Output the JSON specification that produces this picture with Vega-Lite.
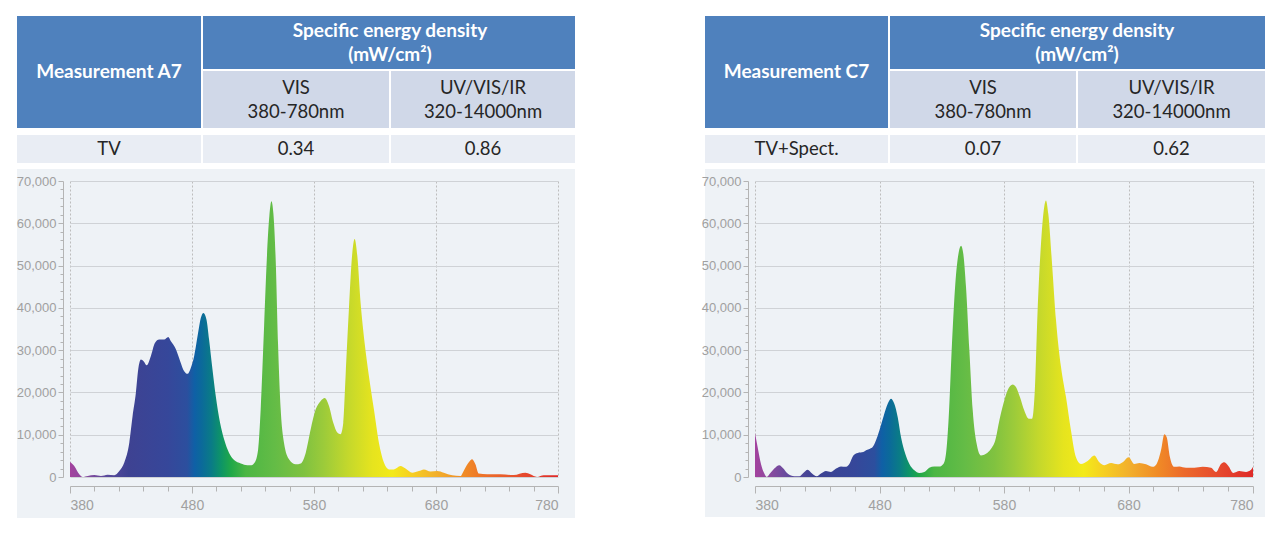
{
  "$schema": "https://vega.github.io/schema/vega-lite/v6.json",
  "padding": {"left": 15, "top": 14, "right": 15, "bottom": 16},
  "background": "white",
  "bounds": "flush",
  "align": "each",
  "columns": 2,
  "spacing": {"row": 17, "column": 197},
  "config": {
    "view": {"stroke": null},
    "font": "Lato",
    "axis": {
      "labelFont": "Liberation Sans Narrow, Liberation Sans",
      "labelColor": "#a0a0a0",
      "labelFontSize": 13,
      "domainColor": "#b4b4b4",
      "tickColor": "#b4b4b4",
      "title": null,
      "labelOverlap": false
    }
  },
  "datasets": {
    "tab": [
      {"c0": 0, "c1": 3, "r0": 5, "r1": 6, "kind": "panel"},
      {"c0": 0, "c1": 1, "r0": 0, "r1": 2, "kind": "head"},
      {"c0": 1, "c1": 3, "r0": 0, "r1": 1, "kind": "head"},
      {"c0": 1, "c1": 2, "r0": 1, "r1": 2, "kind": "sub"},
      {"c0": 2, "c1": 3, "r0": 1, "r1": 2, "kind": "sub"},
      {"c0": 0, "c1": 1, "r0": 3, "r1": 4, "kind": "data"},
      {"c0": 1, "c1": 2, "r0": 3, "r1": 4, "kind": "data"},
      {"c0": 2, "c1": 3, "r0": 3, "r1": 4, "kind": "data"}
    ],
    "txtA": [
      {"cx": 0.5, "ry": 1.03, "label": "Measurement A7", "kind": "head"},
      {"cx": 2, "ry": 0.29, "label": "Specific energy density", "kind": "head"},
      {"cx": 2, "ry": 0.72, "label": "(mW/cm²)", "kind": "head"},
      {"cx": 1.5, "ry": 1.3, "label": "VIS", "kind": "sub"},
      {"cx": 1.5, "ry": 1.71, "label": "380-780nm", "kind": "sub"},
      {"cx": 2.5, "ry": 1.3, "label": "UV/VIS/IR", "kind": "sub"},
      {"cx": 2.5, "ry": 1.71, "label": "320-14000nm", "kind": "sub"},
      {"cx": 0.5, "ry": 3.5, "label": "TV", "kind": "data"},
      {"cx": 1.5, "ry": 3.5, "label": "0.34", "kind": "data"},
      {"cx": 2.5, "ry": 3.5, "label": "0.86", "kind": "data"}
    ],
    "txtC": [
      {"cx": 0.5, "ry": 1.03, "label": "Measurement C7", "kind": "head"},
      {"cx": 2, "ry": 0.29, "label": "Specific energy density", "kind": "head"},
      {"cx": 2, "ry": 0.72, "label": "(mW/cm²)", "kind": "head"},
      {"cx": 1.5, "ry": 1.3, "label": "VIS", "kind": "sub"},
      {"cx": 1.5, "ry": 1.71, "label": "380-780nm", "kind": "sub"},
      {"cx": 2.5, "ry": 1.3, "label": "UV/VIS/IR", "kind": "sub"},
      {"cx": 2.5, "ry": 1.71, "label": "320-14000nm", "kind": "sub"},
      {"cx": 0.5, "ry": 3.5, "label": "TV+Spect.", "kind": "data"},
      {"cx": 1.5, "ry": 3.5, "label": "0.07", "kind": "data"},
      {"cx": 2.5, "ry": 3.5, "label": "0.62", "kind": "data"}
    ],
    "specA": [
      {"nm": 380, "v": 3540}, {"nm": 383.5, "v": 2600}, {"nm": 387.6, "v": 630}, {"nm": 390.4, "v": 0},
      {"nm": 394.5, "v": 240}, {"nm": 400, "v": 470}, {"nm": 405.4, "v": 240}, {"nm": 410.8, "v": 550},
      {"nm": 416.3, "v": 400}, {"nm": 420.4, "v": 1400}, {"nm": 424.5, "v": 3400}, {"nm": 428.6, "v": 8100},
      {"nm": 431.3, "v": 14400}, {"nm": 434, "v": 19900}, {"nm": 435.9, "v": 25400}, {"nm": 438.1, "v": 27800},
      {"nm": 440.3, "v": 27400}, {"nm": 443, "v": 26400}, {"nm": 446.3, "v": 28600}, {"nm": 449.6, "v": 31700},
      {"nm": 453.1, "v": 32500}, {"nm": 457.2, "v": 32500}, {"nm": 460.5, "v": 33100}, {"nm": 462.7, "v": 32100},
      {"nm": 466.8, "v": 30200}, {"nm": 470.3, "v": 27400}, {"nm": 473.6, "v": 25000}, {"nm": 476.3, "v": 24400},
      {"nm": 479, "v": 25800}, {"nm": 481.8, "v": 28600}, {"nm": 485, "v": 34100}, {"nm": 487.2, "v": 37600},
      {"nm": 489.4, "v": 38800}, {"nm": 491.9, "v": 37200}, {"nm": 494, "v": 32500}, {"nm": 496.8, "v": 25400},
      {"nm": 499.5, "v": 19100}, {"nm": 503, "v": 12800}, {"nm": 506.3, "v": 8900}, {"nm": 510.4, "v": 5700},
      {"nm": 514.5, "v": 4000}, {"nm": 520, "v": 3200}, {"nm": 525.4, "v": 2800}, {"nm": 528.7, "v": 2800},
      {"nm": 531.4, "v": 3400}, {"nm": 534.2, "v": 6500}, {"nm": 536.3, "v": 16000}, {"nm": 539.1, "v": 35700},
      {"nm": 541.3, "v": 51400}, {"nm": 543.4, "v": 61700}, {"nm": 545.1, "v": 65200}, {"nm": 546.7, "v": 62400},
      {"nm": 548.6, "v": 51400}, {"nm": 550.5, "v": 31700}, {"nm": 552.7, "v": 16000}, {"nm": 555.4, "v": 8100},
      {"nm": 559.5, "v": 4200}, {"nm": 565, "v": 3000}, {"nm": 569.1, "v": 3200}, {"nm": 573.2, "v": 5700},
      {"nm": 577.3, "v": 11300}, {"nm": 581.4, "v": 16000}, {"nm": 585.5, "v": 18000}, {"nm": 588.8, "v": 18700},
      {"nm": 592.3, "v": 16800}, {"nm": 595.8, "v": 12800}, {"nm": 599.1, "v": 10500}, {"nm": 601.8, "v": 10100},
      {"nm": 604, "v": 12800}, {"nm": 605.9, "v": 23900}, {"nm": 608.6, "v": 39600}, {"nm": 611.4, "v": 53000},
      {"nm": 613.3, "v": 56300}, {"nm": 615.5, "v": 52300}, {"nm": 618.2, "v": 41200}, {"nm": 621.5, "v": 31700},
      {"nm": 625, "v": 23900}, {"nm": 629.1, "v": 16000}, {"nm": 633.2, "v": 8100}, {"nm": 637.3, "v": 3400},
      {"nm": 641.4, "v": 1800}, {"nm": 645.5, "v": 1800}, {"nm": 650.9, "v": 2600}, {"nm": 655, "v": 2000},
      {"nm": 660.5, "v": 1000}, {"nm": 666, "v": 1400}, {"nm": 670, "v": 1800}, {"nm": 675.5, "v": 1300},
      {"nm": 681, "v": 1400}, {"nm": 686.4, "v": 1000}, {"nm": 693.2, "v": 400}, {"nm": 700, "v": 240},
      {"nm": 703.3, "v": 1800}, {"nm": 706.9, "v": 3500}, {"nm": 709.6, "v": 4200}, {"nm": 712.3, "v": 3000},
      {"nm": 715, "v": 800}, {"nm": 721.9, "v": 630}, {"nm": 732.8, "v": 630}, {"nm": 743.7, "v": 470},
      {"nm": 753.3, "v": 1000}, {"nm": 757.3, "v": 630}, {"nm": 762.8, "v": 0}, {"nm": 768.3, "v": 400},
      {"nm": 776.5, "v": 400}, {"nm": 780, "v": 400}
    ],
    "specC": [
      {"nm": 380, "v": 10400}, {"nm": 382.1, "v": 7100}, {"nm": 384.8, "v": 3100}, {"nm": 387.5, "v": 800},
      {"nm": 389.4, "v": 0}, {"nm": 392, "v": 800}, {"nm": 395.5, "v": 2000}, {"nm": 399.5, "v": 2800},
      {"nm": 402.8, "v": 2000}, {"nm": 406.2, "v": 800}, {"nm": 411.6, "v": 160}, {"nm": 415.6, "v": 160},
      {"nm": 418.8, "v": 950}, {"nm": 422.3, "v": 1700}, {"nm": 425.8, "v": 800}, {"nm": 429.5, "v": 160},
      {"nm": 433, "v": 800}, {"nm": 437, "v": 1400}, {"nm": 441, "v": 1200}, {"nm": 445.1, "v": 2000},
      {"nm": 449.1, "v": 2500}, {"nm": 452.6, "v": 2400}, {"nm": 455.8, "v": 3100}, {"nm": 459, "v": 5100},
      {"nm": 462.5, "v": 5700}, {"nm": 467, "v": 5900}, {"nm": 469.2, "v": 6300}, {"nm": 472.4, "v": 6700},
      {"nm": 474.5, "v": 7100}, {"nm": 477.2, "v": 8700}, {"nm": 479.9, "v": 11000}, {"nm": 483.1, "v": 14200},
      {"nm": 486.6, "v": 17300}, {"nm": 489.2, "v": 18500}, {"nm": 491.9, "v": 17300}, {"nm": 494.6, "v": 14200},
      {"nm": 497.3, "v": 9400}, {"nm": 500.7, "v": 5500}, {"nm": 504, "v": 3100}, {"nm": 508, "v": 1600},
      {"nm": 512, "v": 950}, {"nm": 516, "v": 1200}, {"nm": 520, "v": 2200}, {"nm": 524, "v": 2500},
      {"nm": 528, "v": 2500}, {"nm": 531.3, "v": 3100}, {"nm": 533.4, "v": 5500}, {"nm": 535.6, "v": 14200},
      {"nm": 538.2, "v": 31500}, {"nm": 540.9, "v": 45700}, {"nm": 543.6, "v": 53100}, {"nm": 545.5, "v": 54700},
      {"nm": 547.3, "v": 52800}, {"nm": 549.5, "v": 44900}, {"nm": 552.2, "v": 29900}, {"nm": 554.9, "v": 15700},
      {"nm": 558, "v": 7900}, {"nm": 561.5, "v": 5100}, {"nm": 565.5, "v": 5500}, {"nm": 569.6, "v": 6700},
      {"nm": 573, "v": 8700}, {"nm": 576.3, "v": 13400}, {"nm": 579.5, "v": 17300}, {"nm": 582.9, "v": 20500},
      {"nm": 587, "v": 21900}, {"nm": 589.6, "v": 21300}, {"nm": 592.8, "v": 18900}, {"nm": 596.3, "v": 15700},
      {"nm": 599.8, "v": 13800}, {"nm": 602.5, "v": 13800}, {"nm": 604.6, "v": 19700}, {"nm": 607, "v": 39400},
      {"nm": 609.7, "v": 55100}, {"nm": 611.9, "v": 63000}, {"nm": 613.7, "v": 65400}, {"nm": 615.6, "v": 62200},
      {"nm": 618.6, "v": 50400}, {"nm": 621.8, "v": 37000}, {"nm": 625.8, "v": 26000}, {"nm": 629.8, "v": 18900},
      {"nm": 633.8, "v": 11000}, {"nm": 637.8, "v": 4700}, {"nm": 641.8, "v": 3100}, {"nm": 647.2, "v": 3800},
      {"nm": 652.5, "v": 5100}, {"nm": 656.6, "v": 3500}, {"nm": 660.6, "v": 2800}, {"nm": 666, "v": 3300},
      {"nm": 671.3, "v": 3000}, {"nm": 675.3, "v": 3500}, {"nm": 680.1, "v": 4700}, {"nm": 684.7, "v": 3100},
      {"nm": 688.7, "v": 3300}, {"nm": 694.1, "v": 3000}, {"nm": 699.4, "v": 2400}, {"nm": 702.6, "v": 3100},
      {"nm": 706.1, "v": 6300}, {"nm": 708.8, "v": 10100}, {"nm": 710.7, "v": 9400}, {"nm": 713.3, "v": 4700},
      {"nm": 716.8, "v": 2400}, {"nm": 720.8, "v": 2500}, {"nm": 726.2, "v": 2200}, {"nm": 732.9, "v": 2200},
      {"nm": 739.6, "v": 2400}, {"nm": 746.3, "v": 2200}, {"nm": 750.3, "v": 1200}, {"nm": 754.3, "v": 3100},
      {"nm": 757, "v": 3500}, {"nm": 760.5, "v": 2500}, {"nm": 764.2, "v": 950}, {"nm": 769, "v": 1400},
      {"nm": 774.4, "v": 1200}, {"nm": 778.4, "v": 1700}, {"nm": 780, "v": 2400}
    ]
  },
  "concat": [
    {
      "width": 488,
      "height": 149,
      "layer": [
        {
          "data": {"name": "tab"},
          "mark": {"type": "rect", "stroke": "white", "strokeWidth": 2},
          "encoding": {
            "x": {"field": "c0", "type": "quantitative", "axis": null,
                  "scale": {"domain": [0, 1, 2, 3], "range": [-54, 132, 320, 506]}},
            "x2": {"field": "c1"},
            "y": {"field": "r0", "type": "quantitative", "axis": null,
                  "scale": {"domain": [0, 1, 2, 3, 4, 5, 6], "range": [0, 55, 114, 119, 149, 153, 504]}},
            "y2": {"field": "r1"},
            "fill": {"field": "kind", "type": "nominal", "legend": null,
                     "scale": {"domain": ["panel", "head", "sub", "data"],
                               "range": ["#eef2f6", "#4f81bd", "#d0d8e8", "#e9edf4"]}}
          }
        },
        {
          "data": {"name": "txtA"},
          "transform": [{"filter": "datum.kind === 'head'"}],
          "mark": {"type": "text", "fontWeight": "bold", "fontSize": 19, "color": "white", "baseline": "middle"},
          "encoding": {
            "x": {"field": "cx", "type": "quantitative"},
            "y": {"field": "ry", "type": "quantitative"},
            "text": {"field": "label"}
          }
        },
        {
          "data": {"name": "txtA"},
          "transform": [{"filter": "datum.kind !== 'head'"}],
          "mark": {"type": "text", "fontSize": 18.5, "color": "#262626", "baseline": "middle"},
          "encoding": {
            "x": {"field": "cx", "type": "quantitative"},
            "y": {"field": "ry", "type": "quantitative"},
            "text": {"field": "label"}
          }
        }
      ]
    },
    {
      "width": 498,
      "height": 149,
      "layer": [
        {
          "data": {"name": "tab"},
          "mark": {"type": "rect", "stroke": "white", "strokeWidth": 2},
          "encoding": {
            "x": {"field": "c0", "type": "quantitative", "axis": null,
                  "scale": {"domain": [0, 1, 2, 3], "range": [-51, 134, 322, 511]}},
            "x2": {"field": "c1"},
            "y": {"field": "r0", "type": "quantitative", "axis": null,
                  "scale": {"domain": [0, 1, 2, 3, 4, 5, 6], "range": [0, 55, 114, 119, 149, 153, 503]}},
            "y2": {"field": "r1"},
            "fill": {"field": "kind", "type": "nominal", "legend": null,
                     "scale": {"domain": ["panel", "head", "sub", "data"],
                               "range": ["#eef2f6", "#4f81bd", "#d0d8e8", "#e9edf4"]}}
          }
        },
        {
          "data": {"name": "txtC"},
          "transform": [{"filter": "datum.kind === 'head'"}],
          "mark": {"type": "text", "fontWeight": "bold", "fontSize": 19, "color": "white", "baseline": "middle"},
          "encoding": {
            "x": {"field": "cx", "type": "quantitative"},
            "y": {"field": "ry", "type": "quantitative"},
            "text": {"field": "label"}
          }
        },
        {
          "data": {"name": "txtC"},
          "transform": [{"filter": "datum.kind !== 'head'"}],
          "mark": {"type": "text", "fontSize": 18.5, "color": "#262626", "baseline": "middle"},
          "encoding": {
            "x": {"field": "cx", "type": "quantitative"},
            "y": {"field": "ry", "type": "quantitative"},
            "text": {"field": "label"}
          }
        }
      ]
    },
    {
      "width": 488,
      "height": 296,
      "data": {"name": "specA"},
      "mark": {
        "type": "area",
        "interpolate": "monotone",
        "color": {
          "gradient": "linear", "x1": 0, "x2": 1, "y1": 0, "y2": 0,
          "stops": [
            {"offset": 0.0, "color": "#a3429e"},
            {"offset": 0.03, "color": "#8a4a9e"},
            {"offset": 0.075, "color": "#5a4a9c"},
            {"offset": 0.12, "color": "#3e4292"},
            {"offset": 0.2, "color": "#36479a"},
            {"offset": 0.24, "color": "#2c4f9e"},
            {"offset": 0.255, "color": "#0f60a6"},
            {"offset": 0.27, "color": "#0b6a9a"},
            {"offset": 0.29, "color": "#0a7c86"},
            {"offset": 0.31, "color": "#0e9566"},
            {"offset": 0.33, "color": "#20a848"},
            {"offset": 0.36, "color": "#4cb644"},
            {"offset": 0.42, "color": "#64bc46"},
            {"offset": 0.48, "color": "#80c240"},
            {"offset": 0.52, "color": "#9ccb3a"},
            {"offset": 0.57, "color": "#c4d82c"},
            {"offset": 0.62, "color": "#e6e41e"},
            {"offset": 0.66, "color": "#f3ea1a"},
            {"offset": 0.7, "color": "#f6cf22"},
            {"offset": 0.75, "color": "#f2b02c"},
            {"offset": 0.81, "color": "#f08a26"},
            {"offset": 0.86, "color": "#ec6a2a"},
            {"offset": 0.93, "color": "#e64a2e"},
            {"offset": 1.0, "color": "#df2a28"}
          ]
        }
      },
      "encoding": {
        "x": {
          "field": "nm", "type": "quantitative",
          "scale": {"domain": [380, 780], "nice": false, "zero": false},
          "axis": {
            "values": [380, 400, 420, 440, 460, 480, 500, 520, 540, 560, 580, 600, 620, 640, 660, 680, 700, 720, 740, 760, 780],
            "labelExpr": "datum.value % 100 === 80 ? datum.label : ''",
            "offset": 9,
            "labelPadding": 5,
            "labelFontSize": 14,
            "tickSize": {"condition": {"test": "datum.value % 100 === 80", "value": 7}, "value": 5},
            "grid": true,
            "gridDash": [2, 2],
            "gridColor": "#bdbdbd",
            "gridOpacity": {"condition": {"test": "datum.value % 100 === 80", "value": 1}, "value": 0}
          }
        },
        "y": {
          "field": "v", "type": "quantitative",
          "scale": {"domain": [0, 70000], "nice": false},
          "axis": {
            "values": [0, 2000, 4000, 6000, 8000, 10000, 12000, 14000, 16000, 18000, 20000, 22000, 24000, 26000, 28000, 30000, 32000, 34000, 36000, 38000, 40000, 42000, 44000, 46000, 48000, 50000, 52000, 54000, 56000, 58000, 60000, 62000, 64000, 66000, 68000, 70000],
            "format": ",d",
            "labelExpr": "datum.value % 10000 === 0 ? datum.label : ''",
            "offset": 7,
            "labelPadding": 2,
            "tickSize": {"condition": {"test": "datum.value % 10000 === 0", "value": 5}, "value": 3},
            "grid": true,
            "gridColor": "#cfd2d6",
            "gridOpacity": {"condition": {"test": "datum.value % 10000 === 0", "value": 1}, "value": 0}
          }
        }
      }
    },
    {
      "width": 498,
      "height": 296,
      "data": {"name": "specC"},
      "mark": {
        "type": "area",
        "interpolate": "monotone",
        "color": {
          "gradient": "linear", "x1": 0, "x2": 1, "y1": 0, "y2": 0,
          "stops": [
            {"offset": 0.0, "color": "#a3429e"},
            {"offset": 0.03, "color": "#8a4a9e"},
            {"offset": 0.075, "color": "#5a4a9c"},
            {"offset": 0.12, "color": "#3e4292"},
            {"offset": 0.2, "color": "#36479a"},
            {"offset": 0.24, "color": "#2c4f9e"},
            {"offset": 0.255, "color": "#0f60a6"},
            {"offset": 0.27, "color": "#0b6a9a"},
            {"offset": 0.29, "color": "#0a7c86"},
            {"offset": 0.31, "color": "#0e9566"},
            {"offset": 0.33, "color": "#20a848"},
            {"offset": 0.36, "color": "#4cb644"},
            {"offset": 0.42, "color": "#64bc46"},
            {"offset": 0.48, "color": "#80c240"},
            {"offset": 0.52, "color": "#9ccb3a"},
            {"offset": 0.57, "color": "#c4d82c"},
            {"offset": 0.62, "color": "#e6e41e"},
            {"offset": 0.66, "color": "#f3ea1a"},
            {"offset": 0.7, "color": "#f6cf22"},
            {"offset": 0.75, "color": "#f2b02c"},
            {"offset": 0.81, "color": "#f08a26"},
            {"offset": 0.86, "color": "#ec6a2a"},
            {"offset": 0.93, "color": "#e64a2e"},
            {"offset": 1.0, "color": "#df2a28"}
          ]
        }
      },
      "encoding": {
        "x": {
          "field": "nm", "type": "quantitative",
          "scale": {"domain": [380, 780], "nice": false, "zero": false},
          "axis": {
            "values": [380, 400, 420, 440, 460, 480, 500, 520, 540, 560, 580, 600, 620, 640, 660, 680, 700, 720, 740, 760, 780],
            "labelExpr": "datum.value % 100 === 80 ? datum.label : ''",
            "offset": 9,
            "labelPadding": 5,
            "labelFontSize": 14,
            "tickSize": {"condition": {"test": "datum.value % 100 === 80", "value": 7}, "value": 5},
            "grid": true,
            "gridDash": [2, 2],
            "gridColor": "#bdbdbd",
            "gridOpacity": {"condition": {"test": "datum.value % 100 === 80", "value": 1}, "value": 0}
          }
        },
        "y": {
          "field": "v", "type": "quantitative",
          "scale": {"domain": [0, 70000], "nice": false},
          "axis": {
            "values": [0, 2000, 4000, 6000, 8000, 10000, 12000, 14000, 16000, 18000, 20000, 22000, 24000, 26000, 28000, 30000, 32000, 34000, 36000, 38000, 40000, 42000, 44000, 46000, 48000, 50000, 52000, 54000, 56000, 58000, 60000, 62000, 64000, 66000, 68000, 70000],
            "format": ",d",
            "labelExpr": "datum.value % 10000 === 0 ? datum.label : ''",
            "offset": 7,
            "labelPadding": 2,
            "tickSize": {"condition": {"test": "datum.value % 10000 === 0", "value": 5}, "value": 3},
            "grid": true,
            "gridColor": "#cfd2d6",
            "gridOpacity": {"condition": {"test": "datum.value % 10000 === 0", "value": 1}, "value": 0}
          }
        }
      }
    }
  ]
}
